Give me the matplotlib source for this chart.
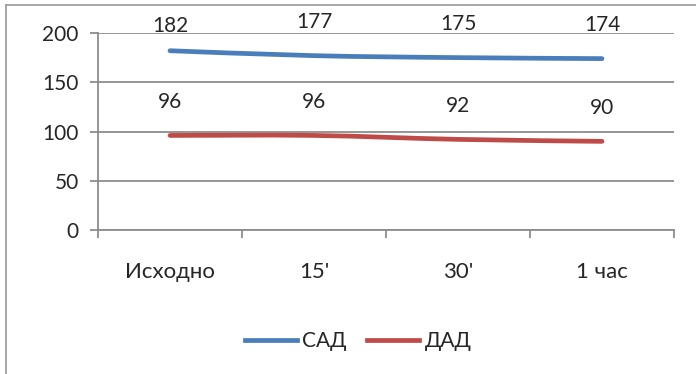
import matplotlib
matplotlib.use("Agg")
import matplotlib.pyplot as plt
from matplotlib.path import Path
from matplotlib.patches import PathPatch
from matplotlib.lines import Line2D
import numpy as np

categories = ["Исходно", "15'", "30'", "1 час"]
sad = [182, 177, 175, 174]
dad = [96, 96, 92, 90]
series_names = ["САД", "ДАД"]
yticks = [0, 50, 100, 150, 200]

BLUE = "#4A7EBB"
RED = "#BE4B48"
GRID = "#8C8C8C"
TEXT = "#262626"
FONT = ["Lato", "DejaVu Sans"]
plt.rcParams["font.family"] = FONT

W, H = 696, 374
fig = plt.figure(figsize=(W / 100, H / 100), dpi=100)
ax = fig.add_axes([98 / W, 1 - 230 / H, (674 - 98) / W, (230 - 33) / H])

x = np.arange(len(categories))


def smooth_path(xs, ys, t=1 / 6):
    """Cubic Bezier path through the points (Catmull-Rom style control points)."""
    pts = np.column_stack([xs, ys]).astype(float)
    verts = [pts[0]]
    codes = [Path.MOVETO]
    n = len(pts)
    for i in range(n - 1):
        p0 = pts[i - 1] if i > 0 else pts[i]
        p1 = pts[i]
        p2 = pts[i + 1]
        p3 = pts[i + 2] if i + 2 < n else pts[i + 1]
        c1 = p1 + (p2 - p0) * t
        c2 = p2 - (p3 - p1) * t
        verts += [c1, c2, p2]
        codes += [Path.CURVE4] * 3
    return Path(verts, codes)


for vals, color in [(sad, BLUE), (dad, RED)]:
    patch = PathPatch(smooth_path(x, vals), facecolor="none", edgecolor=color,
                      lw=3.4, capstyle="round", joinstyle="round", zorder=3)
    ax.add_patch(patch)

# value labels above each point
label_offsets = {0: [18, 24, 24, 24], 1: [24, 24, 24, 24]}
for si, vals in enumerate([sad, dad]):
    for i, v in enumerate(vals):
        ax.annotate(str(v), (x[i], v), xytext=(0, label_offsets[si][i]),
                    textcoords="offset points", ha="center", va="center",
                    fontsize=15, color=TEXT, zorder=4)

ax.set_xlim(-0.5, len(categories) - 0.5)
ax.set_ylim(0, 200)
ax.set_yticks(yticks)
ax.set_yticklabels([str(t) for t in yticks], fontsize=15, color=TEXT)
ax.yaxis.grid(True, color=GRID, lw=1.3)
ax.set_axisbelow(True)

ax.set_xticks(x)
ax.set_xticklabels(categories, fontsize=16, color=TEXT)
ax.set_xticks(np.arange(-0.5, len(categories)), minor=True)
ax.tick_params(axis="x", which="major", length=0, pad=23)
ax.tick_params(axis="x", which="minor", length=6, width=1.3, color=GRID,
               direction="out")
ax.tick_params(axis="y", length=6, width=1.3, color=GRID, pad=8)

for side in ["top", "right"]:
    ax.spines[side].set_visible(False)
for side in ["left", "bottom"]:
    ax.spines[side].set_color(GRID)
    ax.spines[side].set_linewidth(1.3)

handles = [Line2D([], [], color=BLUE, lw=3.4), Line2D([], [], color=RED, lw=3.4)]
fig.legend(handles, series_names, loc="center", bbox_to_anchor=(358 / W, 1 - 341 / H),
           ncol=2, frameon=False, fontsize=15, handlelength=2.5, handletextpad=0.25,
           columnspacing=1.0, labelcolor=TEXT)

# chart area border
fig.add_artist(Line2D([6 / W, 6 / W], [0, 1 - 5 / H], color="#A0A0A0", lw=1.3,
                      transform=fig.transFigure))
fig.add_artist(Line2D([6 / W, 1], [1 - 5 / H, 1 - 5 / H], color="#A0A0A0", lw=1.3,
                      transform=fig.transFigure))

fig.savefig("out.png", dpi=100, facecolor="white")
